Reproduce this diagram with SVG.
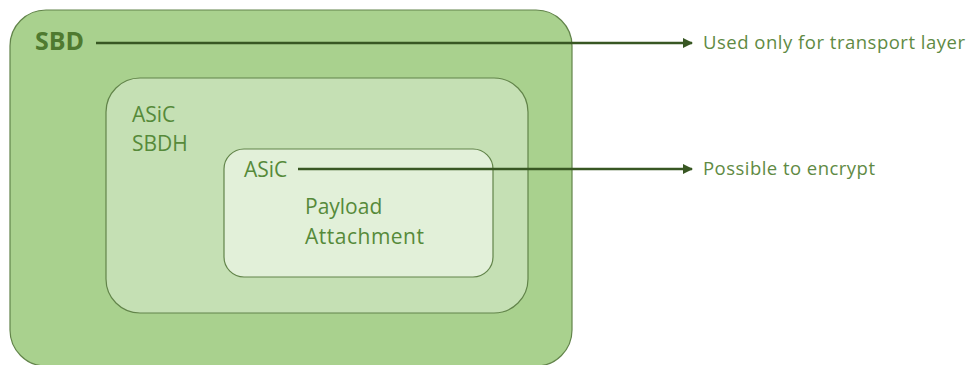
<svg xmlns="http://www.w3.org/2000/svg" width="970" height="365" viewBox="0 0 970 365">
  <defs>
    <marker id="arrow" viewBox="0 0 10 10" refX="9" refY="5" markerWidth="4" markerHeight="4" markerUnits="strokeWidth" orient="auto">
      <path d="M0,0 L10,5 L0,10 z" fill="#385723"/>
    </marker>
    <style>
      .box { stroke: #62844a; stroke-width: 1.2; }
      .lbl { font-family: "Open Sans", "Noto Sans", "Liberation Sans", sans-serif; fill: #568a3a; font-size: 21px; }
      .title { font-family: "Open Sans", "Noto Sans", "Liberation Sans", sans-serif; fill: #4f7a30; font-size: 25px; font-weight: bold; }
      .note { font-family: "Open Sans", "Noto Sans", "Liberation Sans", sans-serif; fill: #5f8a44; font-size: 18.5px; }
      .conn { stroke: #385723; stroke-width: 2.6; fill: none; marker-end: url(#arrow); }
    </style>
  </defs>
  <rect width="970" height="365" fill="#ffffff"/>

  <g id="sbd">
    <rect class="box" x="10" y="10" width="562" height="356" rx="36" ry="36" fill="#a9d18e"/>
    <text class="title" x="35" y="50">SBD</text>
  </g>

  <g id="asic-sbdh">
    <rect class="box" x="106" y="78" width="422" height="235" rx="34" ry="34" fill="#c5e0b4"/>
    <text class="lbl" x="132" y="122">ASiC</text>
    <text class="lbl" x="132" y="151">SBDH</text>
  </g>

  <g id="asic-payload">
    <rect class="box" x="224" y="149" width="269" height="128" rx="20" ry="20" fill="#e2f0d9"/>
    <text class="lbl" x="244" y="177">ASiC</text>
    <text class="lbl" x="305" y="214">Payload</text>
    <text class="lbl" x="305" y="244" textLength="119">Attachment</text>
  </g>

  <g id="note-transport">
    <text class="note" x="703" y="49" textLength="262">Used only for transport layer</text>
  </g>
  <g id="note-encrypt">
    <text class="note" x="703" y="175" textLength="172">Possible to encrypt</text>
  </g>

  <g id="connectors">
    <line class="conn" x1="96" y1="43" x2="692" y2="43"/>
    <line class="conn" x1="298" y1="169" x2="692" y2="169"/>
  </g>
</svg>
